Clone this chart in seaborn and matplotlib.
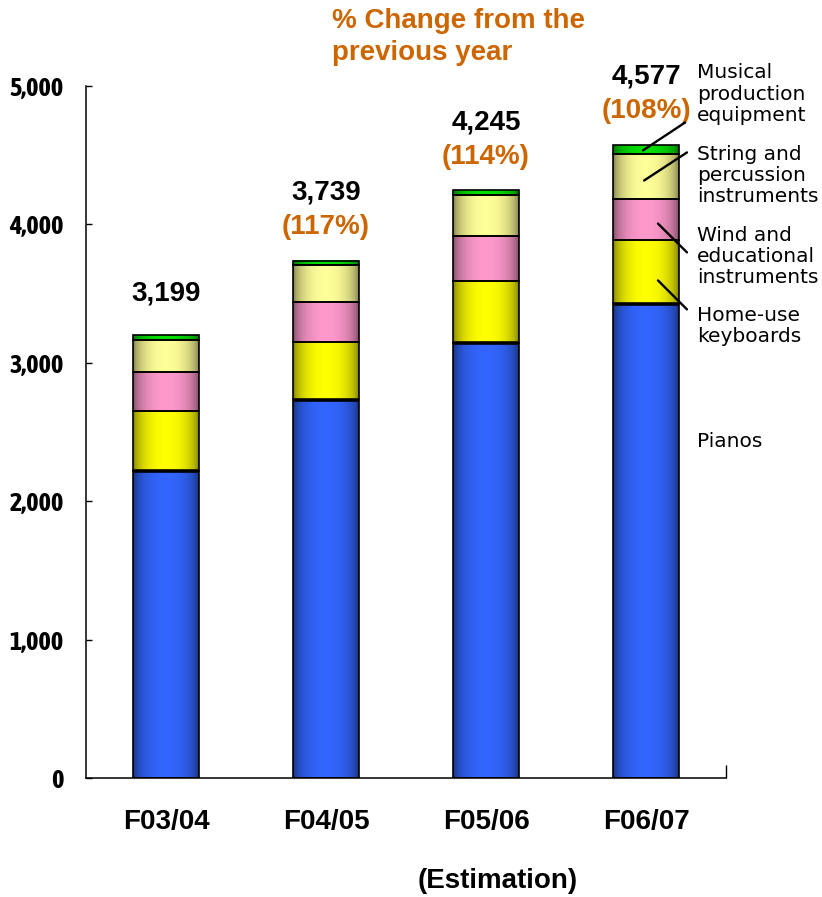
import numpy as np
import pandas as pd
import matplotlib
matplotlib.use("Agg")
import matplotlib.pyplot as plt
import seaborn as sns
from matplotlib import font_manager
from matplotlib.colors import to_rgb

# Net sales of musical instruments by segment (100 million yen)
periods = ["F03/04", "F04/05", "F05/06", "F06/07"]
pianos = [2220, 2730, 3141, 3425]
home_keyboards = [430, 420, 448, 460]
wind_educational = [280, 290, 325, 302]
string_percussion = [234, 268, 296, 325]
music_production = [35, 31, 35, 65]
totals = [3199, 3739, 4245, 4577]
pct_change = [None, "117%", "114%", "108%"]
y_ticks = [0, 1000, 2000, 3000, 4000, 5000]

segment_names = [
    "Pianos",
    "Home-use\nkeyboards",
    "Wind and\neducational\ninstruments",
    "String and\npercussion\ninstruments",
    "Musical\nproduction\nequipment",
]
segment_colors = ["#3366FF", "#FFFF00", "#FF99CC", "#FFFF99", "#00E000"]
ORANGE = "#CC6600"

sns.set_style("white")
plt.rcParams["font.family"] = ["Liberation Sans", "DejaVu Sans"]
plt.rcParams["text.color"] = "black"
plt.rcParams["xtick.color"] = "black"
plt.rcParams["ytick.color"] = "black"

# Prefer a narrow bold face for the value axis if one is installed
bold_narrow = sorted({f.name for f in font_manager.fontManager.ttflist
                      if ("Narrow" in f.name or "Condensed" in f.name)
                      and (f.weight in ("bold", "heavy", "black") or
                           (isinstance(f.weight, int) and f.weight >= 600))})
if "Liberation Sans Narrow" in bold_narrow:
    ytick_family, ytick_size = "Liberation Sans Narrow", 18
elif bold_narrow:
    ytick_family, ytick_size = bold_narrow[0], 19
else:
    ytick_family, ytick_size = "Liberation Sans", 16.5

fig = plt.figure(figsize=(8.22, 8.97), dpi=100)
ax = fig.add_axes([86 / 822, 119 / 897, 640 / 822, 692 / 897])

layers = [pianos, home_keyboards, wind_educational, string_percussion, music_production]
bar_width = 0.41
bottom = np.zeros(len(periods))
for vals, color in zip(layers, segment_colors):
    df = pd.DataFrame({"period": periods, "value": vals})
    sns.barplot(data=df, x="period", y="value", order=periods, bottom=bottom.copy(),
                color=color, saturation=1, width=bar_width, edgecolor="black",
                linewidth=1.2, errorbar=None, ax=ax)
    bottom += np.array(vals)

# Cylinder-like horizontal shading inside each bar segment
t = np.linspace(0, 1, 256)
shade = 0.40 + 0.60 * (1 - (2 * t - 1) ** 2).clip(0, 1) ** 0.5
patches = list(ax.patches)
for k, p in enumerate(patches):
    base = np.array(to_rgb(segment_colors[k // len(periods)]))
    img = (base[None, :] * shade[:, None]).clip(0, 1)[None, :, :]
    x0, y0 = p.get_x(), p.get_y()
    w, h = p.get_width(), p.get_height()
    ax.imshow(img, extent=[x0, x0 + w, y0, y0 + h], aspect="auto",
              interpolation="bilinear", zorder=0.9)
    p.set_facecolor("none")
    p.set_zorder(1)

# Heavier divider on top of the piano segment
xs = np.arange(len(periods))
ax.hlines(pianos, xs - bar_width / 2, xs + bar_width / 2, color="black", lw=2.6, zorder=2)

ax.set_xlim(-0.5, 3.5)
ax.set_ylim(0, 5000)
ax.set_xlabel("")
ax.set_ylabel("")

for side in ["top", "right"]:
    ax.spines[side].set_visible(False)
for side in ["left", "bottom"]:
    ax.spines[side].set_color("black")
    ax.spines[side].set_linewidth(1.1)

ax.set_yticks(y_ticks)
ax.set_yticklabels([f"{v:,}" for v in y_ticks], fontsize=ytick_size,
                   fontweight="bold", family=ytick_family)
ax.tick_params(axis="y", direction="in", length=4.5, width=1, pad=16, left=True)
ax.set_xticks(xs)
ax.set_xticklabels(periods, fontsize=20, fontweight="bold")
ax.tick_params(axis="x", length=0, pad=22)
ax.set_xticks([3.5], minor=True)
ax.tick_params(axis="x", which="minor", direction="in", length=9.5, width=1, bottom=True)

# Totals and year-on-year change above the bars
for i, (tot, pct) in enumerate(zip(totals, pct_change)):
    if pct:
        ax.annotate(f"({pct})", xy=(i, tot), xytext=(0, 24), textcoords="offset points",
                    ha="center", va="center", fontsize=20, fontweight="bold",
                    color=ORANGE, annotation_clip=False)
        off = 49
    else:
        off = 30
    ax.annotate(f"{tot:,}", xy=(i, tot), xytext=(0, off), textcoords="offset points",
                ha="center", va="center", fontsize=20, fontweight="bold",
                color="black", annotation_clip=False)

# Segment labels to the right of the last bar
label_x = 3.32
label_y = [2433, 3267, 3769, 4354, 4942]
for name, ly in zip(segment_names, label_y):
    ax.text(label_x, ly, name, ha="left", va="center", fontsize=14.5,
            family="DejaVu Sans", linespacing=1.15, clip_on=False, color="black")

# Leader lines from the last bar's segments to their labels
last = len(periods) - 1
cum = np.cumsum([layer[last] for layer in layers])
leaders = [
    ((3.075, cum[0] + 0.37 * home_keyboards[last]), (3.256, 3386)),
    ((3.075, cum[1] + 0.40 * wind_educational[last]), (3.256, 3798)),
    ((2.988, cum[2] + 0.40 * string_percussion[last]), (3.256, 4520)),
    ((2.981, cum[3] + 0.35 * music_production[last]), (3.244, 4736)),
]
for (xa, ya), (xb, yb) in leaders:
    ax.plot([xa, xb], [ya, yb], color="black", lw=1.7, clip_on=False, zorder=3)

fig.text(332 / 822, 1 - 37 / 897, "% Change from the\nprevious year", ha="left",
         va="center", fontsize=20, fontweight="bold", color=ORANGE, linespacing=1.35)
fig.text(498 / 822, 1 - 881 / 897, "(Estimation)", ha="center", va="center",
         fontsize=20, fontweight="bold", color="black")

fig.savefig("out.png", dpi=100)
